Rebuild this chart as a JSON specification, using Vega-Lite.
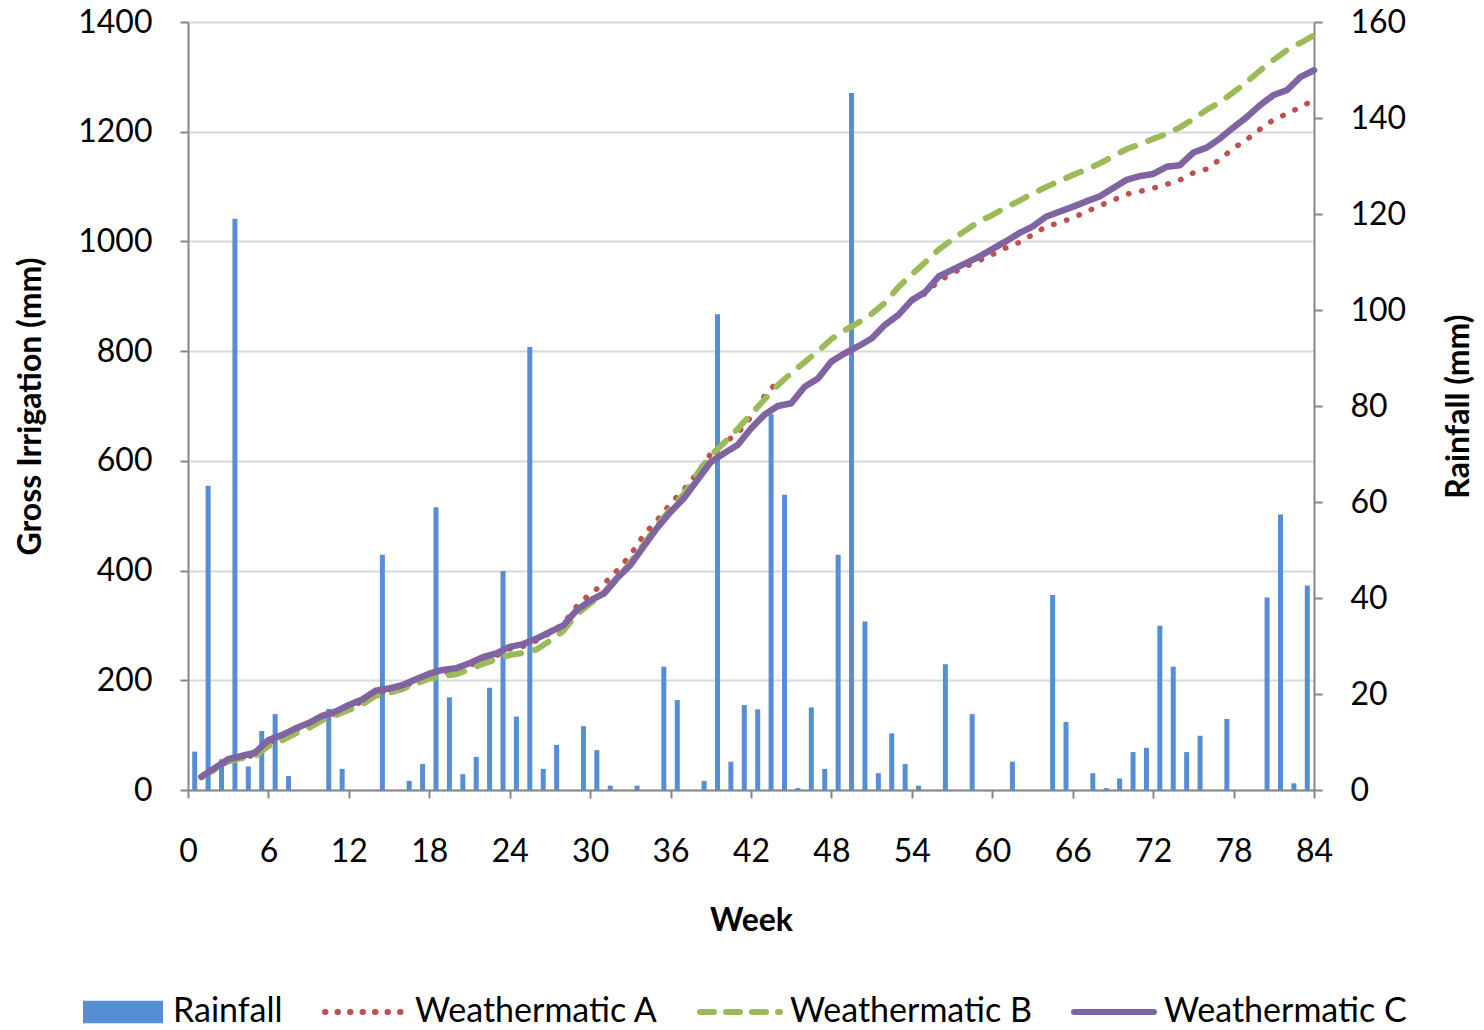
{
  "$schema": "https://vega.github.io/schema/vega-lite/v6.json",
  "width": 1126,
  "height": 768,
  "autosize": {"type": "none"},
  "padding": {"left": 188, "top": 22, "right": 170, "bottom": 240},
  "background": "#ffffff",
  "config": {
    "view": {"stroke": null},
    "font": "Lato",
    "axis": {
      "domainColor": "#868686", "domainWidth": 2,
      "tickColor": "#868686", "tickWidth": 2, "tickSize": 8,
      "labelFont": "Lato", "labelFontSize": 32, "labelColor": "#000000",
      "titleFont": "Lato", "titleFontSize": 32, "titleFontWeight": "bold", "titleColor": "#000000",
      "grid": false, "gridColor": "#D9D9D9", "gridWidth": 2, "format": "d"
    }
  },
  "data": {"values": [
    {"week": 1, "rain": 8.0, "A": 23, "B": 24, "C": 24},
    {"week": 2, "rain": 63.4, "A": 37, "B": 38, "C": 40},
    {"week": 3, "rain": 6.4, "A": 53, "B": 52, "C": 56},
    {"week": 4, "rain": 119, "A": 58, "B": 58, "C": 62},
    {"week": 5, "rain": 4.9, "A": 64, "B": 62, "C": 68},
    {"week": 6, "rain": 12.3, "A": 86, "B": 80, "C": 91},
    {"week": 7, "rain": 15.8, "A": 96, "B": 90, "C": 100},
    {"week": 8, "rain": 2.9, "A": 108, "B": 103, "C": 112},
    {"week": 9, "rain": 0, "A": 118, "B": 113, "C": 122},
    {"week": 10, "rain": 0, "A": 131, "B": 127, "C": 135},
    {"week": 11, "rain": 16.9, "A": 139, "B": 136, "C": 143},
    {"week": 12, "rain": 4.4, "A": 151, "B": 146, "C": 155},
    {"week": 13, "rain": 0, "A": 161, "B": 156, "C": 165},
    {"week": 14, "rain": 0, "A": 177, "B": 172, "C": 181},
    {"week": 15, "rain": 49, "A": 181, "B": 177, "C": 185},
    {"week": 16, "rain": 0, "A": 187, "B": 184, "C": 191},
    {"week": 17, "rain": 1.9, "A": 198, "B": 194, "C": 202},
    {"week": 18, "rain": 5.4, "A": 208, "B": 203, "C": 212},
    {"week": 19, "rain": 58.9, "A": 214, "B": 208, "C": 219},
    {"week": 20, "rain": 19.3, "A": 218, "B": 211, "C": 222},
    {"week": 21, "rain": 3.3, "A": 227, "B": 220, "C": 231},
    {"week": 22, "rain": 6.9, "A": 238, "B": 230, "C": 242},
    {"week": 23, "rain": 21.3, "A": 245, "B": 238, "C": 249},
    {"week": 24, "rain": 45.6, "A": 257, "B": 246, "C": 261},
    {"week": 25, "rain": 15.3, "A": 262, "B": 250, "C": 266},
    {"week": 26, "rain": 92.3, "A": 272, "B": 256, "C": 276},
    {"week": 27, "rain": 4.4, "A": 286, "B": 272, "C": 288},
    {"week": 28, "rain": 9.4, "A": 303, "B": 290, "C": 300},
    {"week": 29, "rain": 0, "A": 335, "B": 320, "C": 328},
    {"week": 30, "rain": 13.3, "A": 358, "B": 340, "C": 345},
    {"week": 31, "rain": 8.3, "A": 375, "B": 356, "C": 358},
    {"week": 32, "rain": 0.9, "A": 400, "B": 384, "C": 386},
    {"week": 33, "rain": 0, "A": 428, "B": 415, "C": 410},
    {"week": 34, "rain": 0.9, "A": 465, "B": 448, "C": 444},
    {"week": 35, "rain": 0, "A": 492, "B": 482, "C": 478},
    {"week": 36, "rain": 25.7, "A": 522, "B": 512, "C": 507},
    {"week": 37, "rain": 18.75, "A": 548, "B": 540, "C": 532},
    {"week": 38, "rain": 0, "A": 578, "B": 577, "C": 565},
    {"week": 39, "rain": 1.9, "A": 613, "B": 610, "C": 598},
    {"week": 40, "rain": 99.1, "A": 633, "B": 633, "C": 614},
    {"week": 41, "rain": 5.9, "A": 650, "B": 658, "C": 629},
    {"week": 42, "rain": 17.7, "A": 680, "B": 685, "C": 659},
    {"week": 43, "rain": 16.8, "A": 718, "B": 712, "C": 684},
    {"week": 44, "rain": 78.3, "A": 745, "B": 738, "C": 700},
    {"week": 45, "rain": 61.5, "A": null, "B": 760, "C": 705},
    {"week": 46, "rain": 0.4, "A": null, "B": 780, "C": 735},
    {"week": 47, "rain": 17.2, "A": null, "B": 800, "C": 750},
    {"week": 48, "rain": 4.4, "A": null, "B": 822, "C": 781},
    {"week": 49, "rain": 49, "A": null, "B": 838, "C": 796},
    {"week": 50, "rain": 145.2, "A": null, "B": 852, "C": 809},
    {"week": 51, "rain": 35.1, "A": null, "B": 868, "C": 823},
    {"week": 52, "rain": 3.5, "A": null, "B": 888, "C": 848},
    {"week": 53, "rain": 11.8, "A": null, "B": 917, "C": 866},
    {"week": 54, "rain": 5.4, "A": 892, "B": 940, "C": 893},
    {"week": 55, "rain": 0.9, "A": 905, "B": 962, "C": 908},
    {"week": 56, "rain": 0, "A": 928, "B": 985, "C": 936},
    {"week": 57, "rain": 26.2, "A": 942, "B": 1003, "C": 948},
    {"week": 58, "rain": 0, "A": 954, "B": 1020, "C": 960},
    {"week": 59, "rain": 15.8, "A": 965, "B": 1036, "C": 972},
    {"week": 60, "rain": 0, "A": 976, "B": 1048, "C": 986},
    {"week": 61, "rain": 0, "A": 988, "B": 1062, "C": 1000},
    {"week": 62, "rain": 5.9, "A": 998, "B": 1074, "C": 1015},
    {"week": 63, "rain": 0, "A": 1012, "B": 1087, "C": 1027},
    {"week": 64, "rain": 0, "A": 1027, "B": 1099, "C": 1045},
    {"week": 65, "rain": 40.6, "A": 1034, "B": 1110, "C": 1054},
    {"week": 66, "rain": 14.2, "A": 1043, "B": 1121, "C": 1063},
    {"week": 67, "rain": 0, "A": 1054, "B": 1131, "C": 1073},
    {"week": 68, "rain": 3.5, "A": 1065, "B": 1142, "C": 1082},
    {"week": 69, "rain": 0.4, "A": 1075, "B": 1155, "C": 1097},
    {"week": 70, "rain": 2.4, "A": 1086, "B": 1168, "C": 1112},
    {"week": 71, "rain": 7.9, "A": 1091, "B": 1177, "C": 1119},
    {"week": 72, "rain": 8.8, "A": 1097, "B": 1187, "C": 1123},
    {"week": 73, "rain": 34.2, "A": 1104, "B": 1196, "C": 1136},
    {"week": 74, "rain": 25.7, "A": 1112, "B": 1208, "C": 1139},
    {"week": 75, "rain": 7.9, "A": 1125, "B": 1223, "C": 1162},
    {"week": 76, "rain": 11.3, "A": 1132, "B": 1240, "C": 1171},
    {"week": 77, "rain": 0, "A": 1150, "B": 1254, "C": 1188},
    {"week": 78, "rain": 14.8, "A": 1170, "B": 1272, "C": 1208},
    {"week": 79, "rain": 0, "A": 1186, "B": 1291, "C": 1227},
    {"week": 80, "rain": 0, "A": 1205, "B": 1312, "C": 1249},
    {"week": 81, "rain": 40.1, "A": 1222, "B": 1331, "C": 1267},
    {"week": 82, "rain": 57.4, "A": 1233, "B": 1349, "C": 1276},
    {"week": 83, "rain": 1.4, "A": 1245, "B": 1362, "C": 1300},
    {"week": 84, "rain": 42.6, "A": 1258, "B": 1376, "C": 1312}
  ]},
  "layer": [
    {
      "mark": {"type": "bar", "size": 5, "xOffset": -6.7},
      "encoding": {
        "x": {
          "field": "week", "type": "quantitative",
          "scale": {"domain": [0, 84], "nice": false, "zero": false, "padding": 0},
          "axis": {
            "values": [0, 6, 12, 18, 24, 30, 36, 42, 48, 54, 60, 66, 72, 78, 84],
            "title": "Week", "labelPadding": 38, "labelFlush": false,
            "titleX": 563, "titleY": 130, "titleBaseline": "middle"
          }
        },
        "y": {
          "field": "rain", "type": "quantitative",
          "scale": {"domain": [0, 160], "nice": false},
          "axis": {
            "orient": "right", "title": "Rainfall (mm)",
            "values": [0, 20, 40, 60, 80, 100, 120, 140, 160],
            "labelPadding": 28, "grid": false,
            "titleAngle": -90, "titleX": 144, "titleY": 384, "titleBaseline": "middle"
          }
        },
        "color": {
          "datum": "Rainfall",
          "scale": {
            "domain": ["Rainfall", "Weathermatic A", "Weathermatic B", "Weathermatic C"],
            "range": ["#558ED5", "#C0504D", "#9BBB59", "#8064A2"]
          },
          "legend": {
            "orient": "none", "legendX": -82, "legendY": 973,
            "direction": "horizontal", "title": null,
            "labelFont": "Lato", "labelFontSize": 34, "labelColor": "#000000", "labelLimit": 500,
            "symbolSize": 6400, "labelOffset": 33, "columnPadding": 30,
            "symbolStrokeWidth": 6,
            "encode": {
              "symbols": {
                "update": {
                  "shape": {"signal": "datum.value === 'Rainfall' ? 'M-1,-0.28H1V0.28H-1Z' : 'stroke'"},
                  "strokeDash": {"signal": "datum.value === 'Weathermatic A' ? [0.5,12] : datum.value === 'Weathermatic B' ? [14,12] : [1,0]"},
                  "strokeCap": {"value": "round"},
                  "fill": {"signal": "datum.value === 'Rainfall' ? '#558ED5' : 'transparent'"},
                  "stroke": {"signal": "datum.value === 'Rainfall' ? '#558ED5' : datum.value === 'Weathermatic A' ? '#C0504D' : datum.value === 'Weathermatic B' ? '#9BBB59' : '#8064A2'"},
                  "strokeWidth": {"signal": "datum.value === 'Rainfall' ? 0 : 6"},
                  "opacity": {"value": 1}
                }
              }
            }
          }
        }
      }
    },
    {
      "layer": [
        {
          "mark": {"type": "line", "strokeWidth": 5.5, "strokeCap": "round", "strokeDash": [0.5, 13], "invalid": "break-paths-show-domains"},
          "encoding": {
            "x": {"field": "week", "type": "quantitative"},
            "y": {
              "field": "A", "type": "quantitative",
              "scale": {"domain": [0, 1400], "nice": false},
              "axis": {
                "orient": "left", "title": "Gross Irrigation (mm)",
                "values": [0, 200, 400, 600, 800, 1000, 1200, 1400],
                "labelPadding": 28, "grid": true,
                "titleAngle": -90, "titleX": -158, "titleY": 384, "titleBaseline": "middle"
              }
            },
            "color": {"datum": "Weathermatic A"}
          }
        },
        {
          "mark": {"type": "line", "strokeWidth": 6, "strokeCap": "round", "strokeDash": [16, 14]},
          "encoding": {
            "x": {"field": "week", "type": "quantitative"},
            "y": {"field": "B", "type": "quantitative", "title": "Gross Irrigation (mm)"},
            "color": {"datum": "Weathermatic B"}
          }
        },
        {
          "mark": {"type": "line", "strokeWidth": 6.5, "strokeCap": "round", "strokeJoin": "round"},
          "encoding": {
            "x": {"field": "week", "type": "quantitative"},
            "y": {"field": "C", "type": "quantitative", "title": "Gross Irrigation (mm)"},
            "color": {"datum": "Weathermatic C"}
          }
        }
      ]
    }
  ],
  "resolve": {"scale": {"y": "independent"}}
}
